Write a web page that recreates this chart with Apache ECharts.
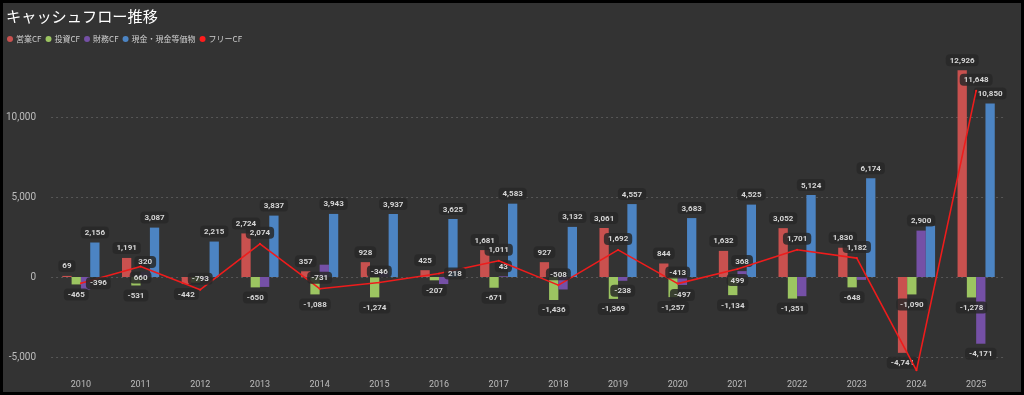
<!DOCTYPE html>
<html>
<head>
<meta charset="utf-8">
<style>
html,body{margin:0;padding:0;background:#000;}
#wrap{position:absolute;left:3px;top:3px;right:3px;bottom:3px;background:#333333;}
#chart{width:100%;height:100%;}
</style>
<script src="https://cdn.jsdelivr.net/npm/echarts@6/dist/echarts.min.js"></script>
</head>
<body>
<div id="wrap"><div id="chart"></div></div>
<script>
const categories = ['2010','2011','2012','2013','2014','2015','2016','2017','2018','2019','2020','2021','2022','2023','2024','2025'];
const operatingCF = [69, 1191, -442, 2724, 357, 928, 425, 1681, 927, 3061, 844, 1632, 3052, 1830, -4741, 12926];
const investingCF = [-465, -531, -351, -650, -1088, -1274, -207, -671, -1436, -1369, -1257, -1134, -1351, -648, -1090, -1278];
const financingCF = [-790, 320, -100, -620, 770, 263, -440, 43, -780, -238, -497, 368, -1200, -180, 2900, -4171];
const cashEquiv = [2156, 3087, 2215, 3837, 3943, 3937, 3625, 4583, 3132, 4557, 3683, 4525, 5124, 6174, 3200, 10850];
const freeCF = [-396, 660, -793, 2074, -731, -346, 218, 1011, -508, 1692, -413, 499, 1701, 1182, -5831, 11648];
const yTicks = [-5000, 0, 5000, 10000];

const chart = echarts.init(document.getElementById('chart'), null, {renderer: 'canvas'});
const numFmt = v => Number(v).toLocaleString('en-US');
const labelFont = "Roboto, sans-serif";
const LABEL_SIZE = 8, LABEL_DIST = 4, PAD = [2, 4, 1, 4];
const GRID = {left: 45, right: 15, top: 50, bottom: 19};

const baseLabel = {
  show: true,
  formatter: p => numFmt(p.value),
  color: '#d6d6d6',
  fontFamily: labelFont,
  fontWeight: 'bold',
  fontSize: LABEL_SIZE,
  lineHeight: LABEL_SIZE + 1,
  backgroundColor: 'rgba(40,40,40,0.85)',
  borderRadius: 4,
  padding: PAD,
  distance: LABEL_DIST
};
const seriesArrays = [operatingCF, investingCF, financingCF, cashEquiv, freeCF];
function buildData(si, placement) {
  return seriesArrays[si].map((v, i) => {
    const key = si + '_' + i;
    let pos = si === 4 ? 'top' : (v >= 0 ? 'top' : 'bottom');
    const lab = {};
    if (placement && placement[key] === 'hide') lab.show = false;
    else if (placement && placement[key]) pos = placement[key];
    lab.position = pos;
    return {value: v, label: lab};
  });
}
function barSeries(name, si, color, placement) {
  return {
    name: name, type: 'bar', data: buildData(si, placement),
    barWidth: 9.3, barGap: '0%', barCategoryGap: '38%',
    itemStyle: {color: color},
    label: baseLabel
  };
}
function makeOption(placement) {
  const s1 = barSeries('営業CF', 0, '#c9514f', placement);
  s1.markLine = {
    silent: true, symbol: 'none', z: 1,
    label: {show: false},
    lineStyle: {color: '#575757', type: [2, 3], width: 1},
    data: yTicks.map(t => ({yAxis: t}))
  };
  return {
    backgroundColor: '#333333',
    animation: false,
    title: {
      text: 'キャッシュフロー推移', left: 3, top: 6, padding: 0,
      textStyle: {color: '#ffffff', fontSize: 15.2, fontWeight: 'normal', fontFamily: "'Noto Sans CJK JP', sans-serif"}
    },
    legend: {
      left: 4, top: 32, padding: 0, icon: 'circle', itemWidth: 6, itemHeight: 6, itemGap: 4,
      textStyle: {color: '#cfcfcf', fontSize: 8, padding: [0, 0, 0, -2], fontFamily: "'Noto Sans CJK JP', sans-serif"},
      data: ['営業CF', '投資CF', '財務CF', '現金・現金等価物', 'フリーCF']
    },
    grid: Object.assign({containLabel: false}, GRID),
    xAxis: {
      type: 'category', data: categories,
      axisLine: {show: false}, axisTick: {show: false},
      axisLabel: {color: '#bdbdbd', fontSize: 9, fontFamily: "Roboto, sans-serif", margin: 7}
    },
    yAxis: {
      type: 'value', min: -6000, max: 14000, interval: 1000,
      splitLine: {show: false}, axisLine: {show: false}, axisTick: {show: false},
      axisLabel: {
        color: '#bdbdbd', fontSize: 10, fontFamily: "Roboto, sans-serif", margin: 15,
        formatter: v => (yTicks.indexOf(v) >= 0 ? numFmt(v) : '')
      }
    },
    series: [
      s1,
      barSeries('投資CF', 1, '#9cc561', placement),
      barSeries('財務CF', 2, '#7550a6', placement),
      barSeries('現金・現金等価物', 3, '#4c84c3', placement),
      {
        name: 'フリーCF', type: 'line', data: buildData(4, placement),
        itemStyle: {color: '#ff1c1c'},
        lineStyle: {color: '#ee1c1c', width: 1.6},
        symbol: 'circle', symbolSize: 2, showSymbol: true,
        z: 5,
        label: Object.assign({}, baseLabel, {position: 'top'})
      }
    ]
  };
}
chart.setOption(makeOption(null));

// Estimate label boxes from the laid-out marks; hide (or move, for the line) labels
// overlapping earlier ones (series order = priority)
const placement = {};
try {
  const ctx = document.createElement('canvas').getContext('2d');
  ctx.font = 'bold ' + LABEL_SIZE + 'px ' + labelFont;
  const boxH = LABEL_SIZE + 1 + PAD[0] + PAD[2];
  const gridBottom = chart.getHeight() - GRID.bottom, gridTop = GRID.top;
  const model = chart.getModel();
  const placed = [];
  const s = 0.5;
  const shrink = r => ({x: r.x + s, y: r.y + s, w: r.w - 2 * s, h: r.h - 2 * s});
  const hits = a => placed.some(b => a.x < b.x + b.w && b.x < a.x + a.w && a.y < b.y + b.h && b.y < a.y + a.h);
  const inside = a => a.y >= gridTop - 20 && a.y + a.h <= gridBottom + 1;
  for (let si = 0; si < seriesArrays.length; si++) {
    const data = model.getSeriesByIndex(si).getData();
    for (let i = 0; i < categories.length; i++) {
      const key = si + '_' + i;
      const v = seriesArrays[si][i];
      const w = ctx.measureText(numFmt(v)).width + PAD[1] + PAD[3];
      if (si === 4) {
        const pt = chart.convertToPixel({gridIndex: 0}, [i, v]);
        const cands = [
          ['top', {x: pt[0] - w / 2, y: pt[1] - 1 - LABEL_DIST - boxH, w: w, h: boxH}, 3],
          ['bottom', {x: pt[0] - w / 2, y: pt[1] + 1 + LABEL_DIST, w: w, h: boxH}, 0],
          ['right', {x: pt[0] + 1 + LABEL_DIST, y: pt[1] - boxH / 2, w: w, h: boxH}, 0]
        ];
        let chosen = null;
        for (const c of cands) {
          const a = shrink(c[1]);
          a.y += c[2]; a.h -= c[2];
          if (inside(c[1]) && !hits(a)) { chosen = c[0]; placed.push(a); break; }
        }
        placement[key] = chosen || 'hide';
      } else {
        const lay = data.getItemLayout(i);
        const cx = lay.x + lay.width / 2;
        const y0 = Math.min(lay.y, lay.y + lay.height), y1 = Math.max(lay.y, lay.y + lay.height);
        const top = v >= 0 ? y0 - LABEL_DIST - boxH : y1 + LABEL_DIST;
        const a = shrink({x: cx - w / 2, y: top, w: w, h: boxH});
        if (hits(a)) placement[key] = 'hide'; else placed.push(a);
      }
    }
  }
} catch (e) { console.error(e); }
chart.setOption(makeOption(placement), {notMerge: true});
</script>
</body>
</html>
